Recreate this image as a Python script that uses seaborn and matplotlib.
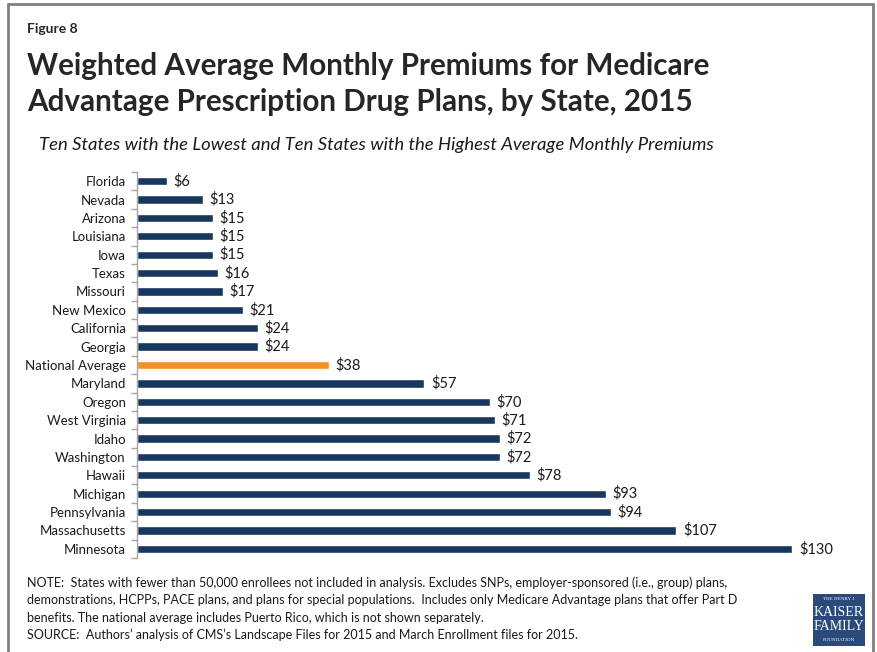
import matplotlib
matplotlib.use("Agg")
import matplotlib.pyplot as plt
from matplotlib.patches import Rectangle
from matplotlib.lines import Line2D
import seaborn as sns
import pandas as pd
import numpy as np

states = ["Florida", "Nevada", "Arizona", "Louisiana", "Iowa", "Texas", "Missouri",
          "New Mexico", "California", "Georgia", "National Average", "Maryland",
          "Oregon", "West Virginia", "Idaho", "Washington", "Hawaii", "Michigan",
          "Pennsylvania", "Massachusetts", "Minnesota"]
premiums = [6, 13, 15, 15, 15, 16, 17, 21, 24, 24, 38, 57, 70, 71, 72, 72, 78, 93, 94, 107, 130]

NAVY = "#17375e"
ORANGE = "#f79121"
colors = [ORANGE if s == "National Average" else NAVY for s in states]

sns.set_theme(style="white")
plt.rcParams["font.family"] = ["Lato", "DejaVu Sans"]

W, H = 878, 652
fig = plt.figure(figsize=(W / 100, H / 100), dpi=100)


def fx(x):
    return x / W


def fy(y):
    return 1 - y / H


# axes placed in pixel terms
left, right, top, bottom = 137, 868, 172, 558
ax = fig.add_axes([fx(left), fy(bottom), fx(right) - fx(left), (bottom - top) / H])

df = pd.DataFrame({"state": states, "premium": premiums})
sns.barplot(data=df, x="premium", y="state", hue="state", palette=colors,
            legend=False, ax=ax, width=0.45, saturation=1, orient="h")

ax.set_xlim(0, 145)
ax.set_ylim(len(states) - 0.5, -0.5)
ax.set_xlabel("")
ax.set_ylabel("")
ax.set_xticks([])
for s in ["top", "right", "bottom"]:
    ax.spines[s].set_visible(False)
ax.spines["left"].set_color("#a6a6a6")
ax.spines["left"].set_linewidth(1.0)
ax.tick_params(axis="y", which="major", length=0, pad=8, labelsize=9.5, labelcolor="#1a1a1a")
ax.set_yticks(np.arange(len(states) + 1) - 0.5, minor=True)
ax.tick_params(axis="y", which="minor", length=4, width=1, color="#a6a6a6", left=True)

for i, v in enumerate(premiums):
    ax.text(v + 1.3, i, f"${v}", va="center", ha="left", fontsize=10.5, color="#1a1a1a")

# outer frame
fig.add_artist(Line2D([fx(8), fx(8)], [fy(4), 0], color="#808080", lw=2, transform=fig.transFigure))
fig.add_artist(Line2D([fx(8), fx(873)], [fy(4), fy(4)], color="#808080", lw=2, transform=fig.transFigure))
fig.add_artist(Line2D([fx(873), fx(873)], [fy(4), 0], color="#808080", lw=2, transform=fig.transFigure))

fig.text(fx(27), fy(29), "Figure 8", fontsize=10, fontweight="bold", va="center", ha="left")
fig.text(fx(27), fy(66), "Weighted Average Monthly Premiums for Medicare", fontsize=21.3,
         fontweight="bold", va="center", ha="left")
fig.text(fx(27), fy(102), "Advantage Prescription Drug Plans, by State, 2015", fontsize=21.3,
         fontweight="bold", va="center", ha="left")
fig.text(fx(376), fy(145), "Ten States with the Lowest and Ten States with the Highest Average Monthly Premiums",
         fontsize=13.3, style="italic", va="center", ha="center", color="#1a1a1a")

notes = [
    "NOTE:  States with fewer than 50,000 enrollees not included in analysis. Excludes SNPs, employer-sponsored (i.e., group) plans,",
    "demonstrations, HCPPs, PACE plans, and plans for special populations.  Includes only Medicare Advantage plans that offer Part D",
    "benefits. The national average includes Puerto Rico, which is not shown separately.",
    "SOURCE:  Authors\u2019 analysis of CMS\u2019s Landscape Files for 2015 and March Enrollment files for 2015.",
]
for k, line in enumerate(notes):
    fig.text(fx(27), fy(583 + 17.3 * k), line, fontsize=9, va="center", ha="left", color="#1a1a1a")

# foundation logo
fig.add_artist(Rectangle((fx(813), fy(646)), fx(865) - fx(813), (646 - 594) / H,
                         facecolor="#2b4a7c", edgecolor="none", transform=fig.transFigure))
logo_font = ["Liberation Serif", "DejaVu Serif"]
fig.text(fx(839), fy(599), "THE HENRY J.", fontsize=3.6, color="white", ha="center", va="center", family=logo_font)
fig.text(fx(839), fy(612), "KAISER", fontsize=10, color="white", ha="center", va="center", family=logo_font)
fig.text(fx(839), fy(627), "FAMILY", fontsize=10, color="white", ha="center", va="center", family=logo_font)
fig.text(fx(839), fy(640), "FOUNDATION", fontsize=3.6, color="white", ha="center", va="center", family=logo_font)

fig.savefig("out.png", dpi=100)
